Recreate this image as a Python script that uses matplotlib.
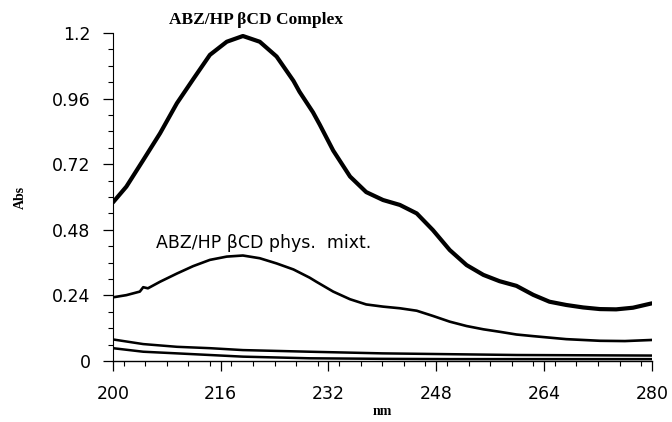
import matplotlib
matplotlib.use("Agg")
from matplotlib import pyplot as plt
from matplotlib.ticker import MultipleLocator

# wavelength (nm) / absorbance
complex_nm = [200, 202, 204.5, 207, 209.5, 212, 214.4, 216.9, 219.3, 221.8, 224.3, 226.8,
              227.7, 229.7, 230.7, 232.7, 235.2, 237.6, 240.1, 242.6, 245.1, 247.5, 250,
              252.5, 255, 257.4, 259.9, 262.4, 264.8, 267.3, 269.8, 272.3, 274.7, 277.2, 280]
complex_abs = [0.58, 0.638, 0.735, 0.833, 0.943, 1.034, 1.12, 1.168, 1.189, 1.168, 1.114, 1.025,
               0.985, 0.91, 0.865, 0.77, 0.675, 0.618, 0.589, 0.571, 0.54, 0.479, 0.406,
               0.351, 0.315, 0.292, 0.275, 0.242, 0.217, 0.205, 0.196, 0.19, 0.189, 0.195, 0.211]

mixt_nm = [200, 202, 204, 204.5, 205.2, 207, 209.5, 211.9, 214.4, 216.9, 219.3, 221.8, 224.3,
           226.8, 229.2, 230.2, 232.7, 235.2, 237.6, 240.1, 242.6, 245.1, 247.5, 250, 252.5,
           255, 257.4, 259.9, 262.4, 267.3, 272.3, 276, 280]
mixt_abs = [0.233, 0.241, 0.254, 0.27, 0.266, 0.29, 0.32, 0.347, 0.37, 0.382, 0.386, 0.376, 0.357,
            0.335, 0.305, 0.29, 0.254, 0.226, 0.207, 0.199, 0.193, 0.184, 0.165, 0.144, 0.128,
            0.116, 0.107, 0.097, 0.091, 0.08, 0.074, 0.073, 0.077]

base_nm = [200, 204.5, 209.5, 214.4, 219.3, 229.2, 240, 250, 260, 270, 280]
base1_abs = [0.079, 0.062, 0.052, 0.047, 0.04, 0.034, 0.028, 0.025, 0.022, 0.021, 0.02]
base2_abs = [0.047, 0.034, 0.028, 0.022, 0.016, 0.01, 0.008, 0.007, 0.007, 0.007, 0.007]

x_ticks = [200, 216, 232, 248, 264, 280]
y_ticks = [0, 0.24, 0.48, 0.72, 0.96, 1.2]
y_ticklabels = ["0", "0.24", "0.48", "0.72", "0.96", "1.2"]

fig = plt.figure(figsize=(6.72, 4.22), dpi=100)
ax = fig.add_axes([0.168, 0.1445, 0.802, 0.7773])

ax.plot(complex_nm, complex_abs, color="black", linewidth=3.0, solid_capstyle="round")
ax.plot(mixt_nm, mixt_abs, color="black", linewidth=1.9)
ax.plot(base_nm, base1_abs, color="black", linewidth=1.8)
ax.plot(base_nm, base2_abs, color="black", linewidth=1.8)

ax.set_xlim(200, 280)
ax.set_ylim(0, 1.2)
ax.set_xticks(x_ticks)
ax.set_yticks(y_ticks)
ax.set_yticklabels(y_ticklabels)
ax.xaxis.set_minor_locator(MultipleLocator(3.2))
ax.yaxis.set_minor_locator(MultipleLocator(0.06))

for side in ["top", "right"]:
    ax.spines[side].set_visible(False)
ax.spines["left"].set_linewidth(0.8)
ax.spines["bottom"].set_linewidth(1.0)

ax.tick_params(axis="both", which="major", direction="out", length=7, width=0.9,
               labelsize=12.5, pad=9)
ax.tick_params(axis="both", which="minor", direction="out", length=3.5, width=0.8)
ax.tick_params(axis="x", which="major", pad=10)

ax.set_xlabel("nm", family="Liberation Serif", fontweight="bold", fontsize=10, labelpad=2)
ax.set_ylabel("Abs", family="Liberation Serif", fontweight="bold", fontsize=10, labelpad=18)

fig.text(0.381, 0.953, "ABZ/HP βCD Complex", family="Liberation Serif", fontweight="bold",
         fontsize=12.5, ha="center", va="center")
ax.text(206.4, 0.43, "ABZ/HP βCD phys.  mixt.", fontsize=12.5, ha="left", va="center")

fig.savefig("out.png", dpi=100)
plt.close()
